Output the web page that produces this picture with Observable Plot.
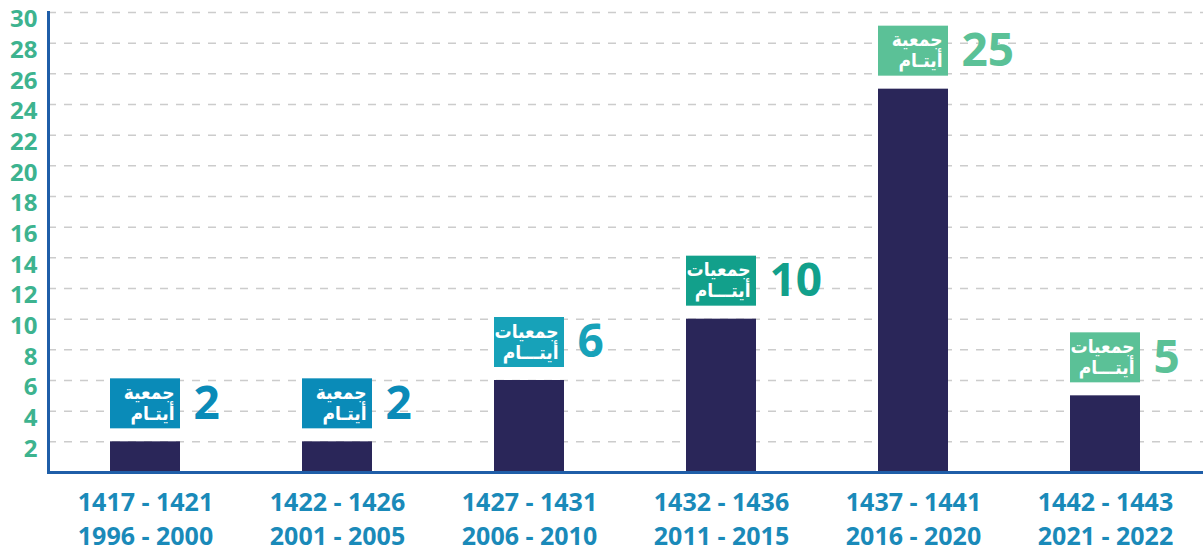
<!DOCTYPE html>
<html>
<head>
<meta charset="utf-8">
<script src="https://cdn.jsdelivr.net/npm/d3@7"></script>
<script src="https://cdn.jsdelivr.net/npm/@observablehq/plot@0.6"></script>
<style>
  html, body { margin: 0; padding: 0; background: #ffffff; }
  #chart svg { display: block; }
</style>
</head>
<body>
<div id="chart"></div>
<script>
const periodsHijri = ["1417 - 1421", "1422 - 1426", "1427 - 1431", "1432 - 1436", "1437 - 1441", "1442 - 1443"];
const periodsGregorian = ["1996 - 2000", "2001 - 2005", "2006 - 2010", "2011 - 2015", "2016 - 2020", "2021 - 2022"];
const counts = [2, 2, 6, 10, 25, 5];
const labelWord = ["جمعية", "جمعية", "جمعيات", "جمعيات", "جمعية", "جمعيات"];
const labelSub = ["أيتـام", "أيتـام", "أيتـــام", "أيتـــام", "أيتـام", "أيتـــام"];
const labelColors = ["#0a8bb8", "#0a8bb8", "#17a2b9", "#12a08b", "#5bc197", "#5bc197"];
const yTicks = [2, 4, 6, 8, 10, 12, 14, 16, 18, 20, 22, 24, 26, 28, 30];

const data = periodsHijri.map((h, i) => ({
  period: h + "\n" + periodsGregorian[i],
  value: counts[i],
  word: labelWord[i],
  sub: labelSub[i],
  color: labelColors[i]
}));

const arabicFont = "'DejaVu Sans Condensed', 'DejaVu Sans', sans-serif";

const chart = Plot.plot({
  width: 1203,
  height: 556,
  marginLeft: 48,
  marginRight: 0,
  marginTop: 12,
  marginBottom: 84,
  style: { fontFamily: "'Open Sans', 'DejaVu Sans', sans-serif", background: "#ffffff" },
  x: { domain: data.map(d => d.period), paddingInner: 0.635, paddingOuter: 0.3175, label: null },
  y: { domain: [0, 30], label: null },
  marks: [
    Plot.gridY(yTicks, { stroke: "#cccccc", strokeOpacity: 1, strokeWidth: 1.5, strokeDasharray: "8,8" }),
    Plot.barY(data, { x: "period", y: "value", fill: "#2a2659" }),
    Plot.barY(data, { x: "period", y1: "value", y2: "value", fill: "color", insetTop: -63, insetBottom: 13 }),
    Plot.text(data, { x: "period", y: "value", text: "word", dx: 29, dy: -49, textAnchor: "end", fill: "white", fontSize: 19, fontWeight: 700, fontFamily: arabicFont }),
    Plot.text(data, { x: "period", y: "value", text: "sub", dx: 29, dy: -28, textAnchor: "end", fill: "white", fontSize: 19, fontWeight: 700, fontFamily: arabicFont }),
    Plot.text(data, { x: "period", y: "value", text: d => String(d.value), dx: 48, dy: -38, textAnchor: "start", fill: "color", fontSize: 46, fontWeight: 700 }),
    Plot.axisY(yTicks, { tickSize: 0, tickPadding: 11, dy: 7, fill: "#3db38f", fontSize: 24, fontWeight: 700, label: null }),
    Plot.axisX({ tickSize: 0, tickPadding: 14, fill: "#1a8ab9", fontSize: 25, fontWeight: 700, lineHeight: 1.38, label: null }),
    Plot.ruleY([0], { stroke: "#1f5ea8", strokeWidth: 3 }),
    Plot.frame({ anchor: "left", stroke: "#1f5ea8", strokeWidth: 3 })
  ]
});
document.getElementById("chart").appendChild(chart);
</script>
</body>
</html>
